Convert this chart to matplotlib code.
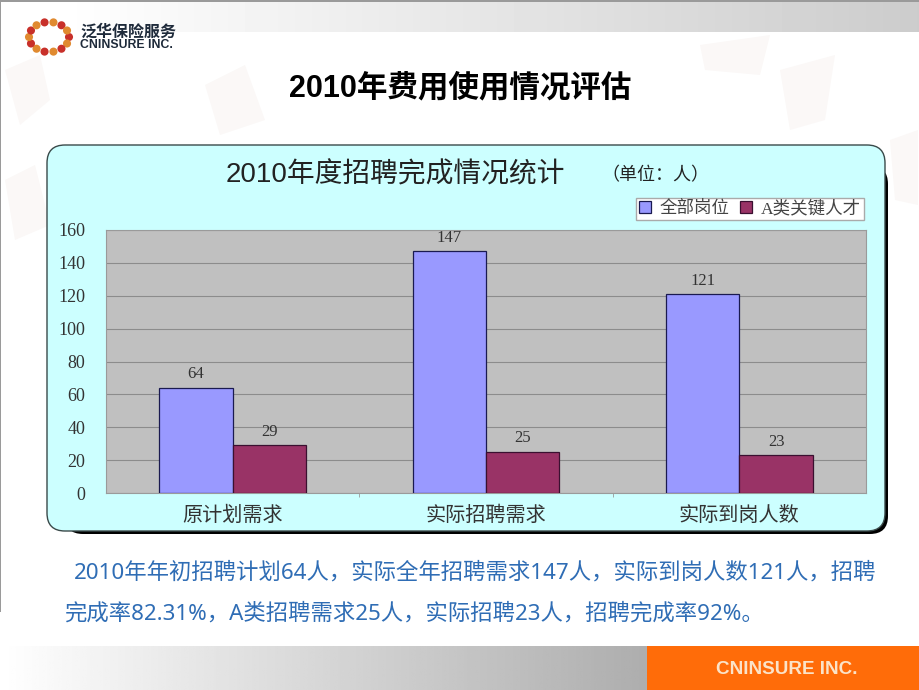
import numpy as np
import matplotlib
matplotlib.use('Agg')
import matplotlib.pyplot as plt
from matplotlib.patches import FancyBboxPatch, Rectangle, Patch, Polygon

plt.rcParams['font.family'] = ['Liberation Serif', 'Noto Sans CJK SC', 'DejaVu Sans']

categories = ['原计划需求', '实际招聘需求', '实际到岗人数']
all_posts = [64, 147, 121]
key_talent = [29, 25, 23]
series_names = ['全部岗位', 'A类关键人才']
y_ticks = [0, 20, 40, 60, 80, 100, 120, 140, 160]

SANS = ['Liberation Sans', 'Noto Sans CJK SC', 'DejaVu Sans']

fig = plt.figure(figsize=(9.2, 6.9), dpi=100, facecolor='white')

# slide background, drawn in pixel coordinates
bg = fig.add_axes([0, 0, 1, 1])
bg.set_xlim(0, 920)
bg.set_ylim(690, 0)
bg.axis('off')

top = np.array([np.linspace(1.0, 0.80, 256)])
bg.imshow(top, extent=(60, 920, 32, 2), cmap='gray', vmin=0, vmax=1, aspect='auto')
bottom = np.array([np.linspace(1.0, 0.68, 256)])
bg.imshow(bottom, extent=(0, 648, 690, 646), cmap='gray', vmin=0, vmax=1, aspect='auto')
bg.set_xlim(0, 920)
bg.set_ylim(690, 0)
bg.add_patch(Rectangle((647, 646), 273, 44, fc='#FF6C09', ec='none'))
bg.add_patch(Rectangle((0, 0), 920, 1.5, fc='#9A9A9A', ec='none'))
bg.add_patch(Rectangle((0, 0), 1.5, 612, fc='#9A9A9A', ec='none'))

# faint map shapes behind the slide
shapes = [[(5, 70), (40, 55), (50, 100), (20, 125)],
          [(205, 85), (245, 65), (265, 120), (220, 135)],
          [(5, 180), (35, 165), (50, 225), (15, 240)],
          [(700, 45), (770, 35), (760, 75), (705, 70)],
          [(780, 70), (835, 55), (825, 120), (790, 130)],
          [(890, 140), (918, 130), (918, 205), (895, 200)]]
for pts in shapes:
    bg.add_patch(Polygon(pts, closed=True, fc='#FBF8F7', ec='none'))

# logo ring
ang = np.arange(0, 2 * np.pi, 2 * np.pi / 14)
ring_cols = ['#C8302A', '#E08A30'] * 7
bg.scatter(49 + 20 * np.cos(ang), 37 + 15 * np.sin(ang), s=34, c=ring_cols, marker='o', linewidths=0)
bg.text(80, 31.5, '泛华保险服务', family=SANS, fontsize=11.5, fontweight='bold', color='#1E2A3A',
        ha='left', va='center')
bg.text(80, 45, 'CNINSURE INC.', family=SANS, fontsize=8.8, fontweight='bold', color='#1E2A3A',
        ha='left', va='center')

bg.text(460, 88, '2010年费用使用情况评估', family=SANS, fontsize=22, fontweight='bold', color='black',
        ha='center', va='center')

# chart panel with its hard shadow
bg.add_patch(FancyBboxPatch((65, 166), 823, 368, boxstyle='round,pad=0,rounding_size=18',
                            mutation_aspect=1, fc='black', ec='none'))
bg.add_patch(FancyBboxPatch((47, 145), 838, 386, boxstyle='round,pad=0,rounding_size=18',
                            fc='#CCFFFF', ec='#3A4A4A', lw=1.0))
bg.text(395, 175, '2010年度招聘完成情况统计', family=['Liberation Sans', 'Noto Sans CJK SC'],
        fontsize=20, color='#222222', ha='center', va='center')
bg.text(655, 175, '（单位：人）', family=['Noto Sans CJK SC'], fontsize=13, color='#222222',
        ha='center', va='center')

# the bar chart itself
ax = fig.add_axes([106 / 920, 1 - 493 / 690, 760 / 920, 263 / 690], facecolor='#C0C0C0')
pos = np.arange(len(categories))
width = 0.29
bars_all = ax.bar(pos - width / 2, all_posts, width, color='#9999FF', edgecolor='#1A1A50', lw=0.9, zorder=3)
bars_key = ax.bar(pos + width / 2, key_talent, width, color='#993366', edgecolor='#3A1030', lw=0.9, zorder=3)
ax.bar_label(bars_all, padding=4, fontsize=12, color='#333333')
ax.bar_label(bars_key, padding=4, fontsize=12, color='#333333')

ax.set_xlim(-0.5, 2.5)
ax.set_ylim(0, 160)
ax.set_yticks(y_ticks)
ax.set_xticks(pos)
ax.set_xticklabels(categories, fontsize=14.5, color='#333333')
ax.tick_params(axis='x', length=0, pad=10)
ax.tick_params(axis='y', length=0, pad=15, labelsize=13, labelcolor='#333333')
ax.set_xticks([0.5, 1.5], minor=True)
ax.tick_params(axis='x', which='minor', length=3, color='#9A9A9A')
ax.grid(axis='y', color='#8C8C8C', lw=0.8, zorder=1)
for s in ax.spines.values():
    s.set_color('#9A9A9A')
    s.set_linewidth(0.8)

handles = [Patch(fc='#9999FF', ec='#1A1A50', lw=0.9), Patch(fc='#993366', ec='#3A1030', lw=0.9)]
leg = fig.legend(handles, series_names, ncol=2, loc='center', bbox_to_anchor=(750 / 920, 1 - 209 / 690),
                 fontsize=12.6, frameon=True, fancybox=False, edgecolor='#AAAAAA', facecolor='white',
                 framealpha=1, handlelength=0.7, handleheight=0.7, columnspacing=0.6, handletextpad=0.5,
                 borderpad=0.15, labelcolor='#444444')

# note under the chart
bg.text(74, 573, '2010年年初招聘计划64人，实际全年招聘需求147人，实际到岗人数121人，招聘',
        family=['Noto Sans', 'Noto Sans CJK SC'], fontsize=16.1, color='#2F6DB5', ha='left', va='center')
bg.text(64, 614, '完成率82.31%，A类招聘需求25人，实际招聘23人，招聘完成率92%。',
        family=['Noto Sans', 'Noto Sans CJK SC'], fontsize=16.1, color='#2F6DB5', ha='left', va='center')

bg.text(787, 669, 'CNINSURE INC.', family=SANS, fontsize=13.6, fontweight='bold', color='#FBE3C8',
        ha='center', va='center')

fig.savefig('out.png', dpi=100)
